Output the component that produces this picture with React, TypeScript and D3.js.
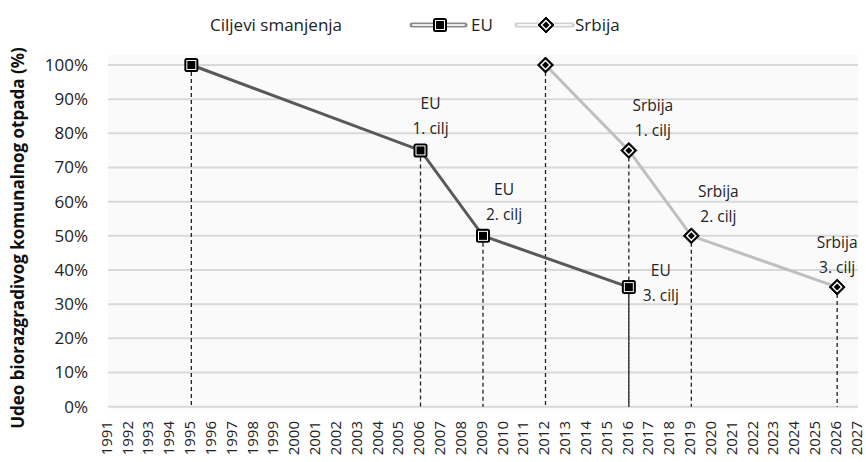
import React from "react";
import * as d3 from "d3";

const years: string[] = [];
for (let y = 1991; y <= 2027; y++) years.push(String(y));

const yTicks = [0, 10, 20, 30, 40, 50, 60, 70, 80, 90, 100];

const euYears = ["1995", "2006", "2009", "2016"];
const euValues = [100, 75, 50, 35];
const srYears = ["2012", "2016", "2019", "2026"];
const srValues = [100, 75, 50, 35];

const euLabels = ["", "EU|1. cilj", "EU|2. cilj", "EU|3. cilj"];
const srLabels = ["", "Srbija|1. cilj", "Srbija|2. cilj", "Srbija|3. cilj"];

// label offsets (layout only)
const euLabelOffsets = [[0, 0], [10, -47], [21, -46], [32, -17]];
const srLabelOffsets = [[0, 0], [24, -45], [27, -44], [0, -45]];

const W = 866, H = 462;
const left = 108, right = 858, top = 65, bottom = 406.7;
const FONT = "'Open Sans', sans-serif";

export default function App() {
  const x = d3.scalePoint<string>().domain(years).range([left, right]);
  const y = d3.scaleLinear().domain([0, 100]).range([bottom, top]);
  const line = d3.line<[string, number]>().x(d => x(d[0])!).y(d => y(d[1]));
  const eu = euYears.map((yr, i) => [yr, euValues[i]] as [string, number]);
  const sr = srYears.map((yr, i) => [yr, srValues[i]] as [string, number]);

  const square = (cx: number, cy: number, k: string) => (
    <g key={k}>
      <rect x={cx - 7} y={cy - 7} width={14} height={14} rx={2.5} fill="#000" />
      <rect x={cx - 5} y={cy - 5} width={10} height={10} fill="#fff" />
      <rect x={cx - 4} y={cy - 4} width={8} height={8} fill="#000" />
    </g>
  );
  const diamond = (cx: number, cy: number, k: string) => {
    const d = (r: number) => `M${cx},${cy - r}L${cx + r},${cy}L${cx},${cy + r}L${cx - r},${cy}Z`;
    return (
      <g key={k}>
        <path d={d(8)} fill="#000" strokeLinejoin="round" stroke="#000" strokeWidth={1} />
        <path d={d(5.5)} fill="#fff" />
        <path d={d(3.5)} fill="#000" />
      </g>
    );
  };

  const labels = (data: [string, number][], texts: string[], offs: number[][], k: string) =>
    data.map((d, i) => {
      if (!texts[i]) return null;
      const [a, b] = texts[i].split("|");
      const cx = x(d[0])! + offs[i][0];
      const cy = y(d[1]) + offs[i][1];
      return (
        <g key={k + i} fontFamily={FONT} fontSize={15.5} fill="#222" textAnchor="middle">
          <text x={cx} y={cy} dy="0.35em">{a}</text>
          <text x={cx} y={cy + 25} dy="0.35em">{b}</text>
        </g>
      );
    });

  return (
    <svg width={W} height={H} style={{ position: "absolute", left: 0, top: 0, background: "#fff" }}>
      <rect x={left} y={top - 10} width={right - left} height={bottom - top + 12} fill="#fafafa" />
      {yTicks.map(t => (
        <line key={"g" + t} x1={left} x2={right} y1={y(t)} y2={y(t)} stroke="#d9d9d9" strokeWidth={2} />
      ))}
      {yTicks.map(t => (
        <text key={"yt" + t} x={88} y={y(t)} dy="0.35em" textAnchor="end" fontFamily={FONT} fontSize={17} fill="#222">
          {t}%
        </text>
      ))}
      {years.map(yr => (
        <text key={"xt" + yr} transform={`translate(${x(yr)! - 1},${421}) rotate(-90)`} dy="0.32em" textAnchor="end" fontFamily={FONT} fontSize={15} fill="#222">
          {yr}
        </text>
      ))}
      <text transform={`translate(18,238) rotate(-90)`} dy="0.35em" textAnchor="middle" fontFamily={FONT} fontWeight="bold" fontSize={17} fill="#111">
        Udeo biorazgradivog komunalnog otpada (%)
      </text>
      {[...eu, ...sr].map((d, i) => (
        <line key={"dl" + i} x1={x(d[0])} x2={x(d[0])} y1={y(d[1])} y2={bottom} stroke="#222" strokeWidth={1.3} strokeDasharray="4 3" />
      ))}
      <path d={line(eu)!} fill="none" stroke="#595959" strokeWidth={3} />
      <path d={line(sr)!} fill="none" stroke="#bfbfbf" strokeWidth={3} />
      {eu.map((d, i) => square(x(d[0])!, y(d[1]), "s" + i))}
      {sr.map((d, i) => diamond(x(d[0])!, y(d[1]), "d" + i))}
      {labels(eu, euLabels, euLabelOffsets, "el")}
      {labels(sr, srLabels, srLabelOffsets, "sl")}
      {/* legend */}
      <text x={210} y={25} dy="0.35em" fontFamily={FONT} fontSize={17} fill="#222">Ciljevi smanjenja</text>
      <line x1={412} x2={465} y1={25} y2={25} stroke="#8c8c8c" strokeWidth={5} strokeLinecap="round" />
      <line x1={413} x2={464} y1={25} y2={25} stroke="#ececec" strokeWidth={2} strokeLinecap="round" />
      {square(440, 25, "ls")}
      <text x={471} y={25} dy="0.35em" fontFamily={FONT} fontSize={17} fill="#222">EU</text>
      <line x1={517} x2={572} y1={25} y2={25} stroke="#d0d0d0" strokeWidth={5} strokeLinecap="round" />
      <line x1={518} x2={571} y1={25} y2={25} stroke="#f6f6f6" strokeWidth={2} strokeLinecap="round" />
      {diamond(546, 25, "ld")}
      <text x={575} y={25} dy="0.35em" fontFamily={FONT} fontSize={17} fill="#222">Srbija</text>
    </svg>
  );
}
